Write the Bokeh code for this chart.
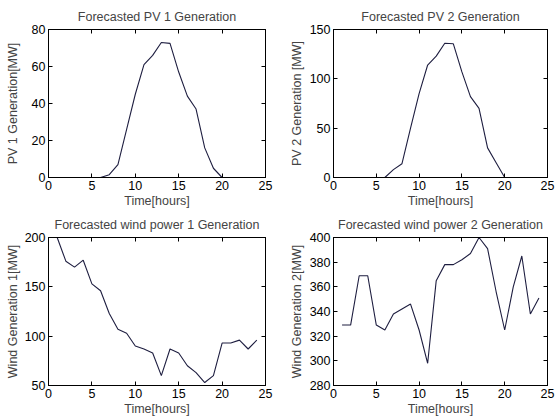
from bokeh.plotting import figure
from bokeh.layouts import column, row
from bokeh.models import LinearAxis, FixedTicker, Range1d, CustomJSTickFormatter
from bokeh.embed import file_html
from bokeh.resources import INLINE

hours = list(range(1, 25))
pv1 = [0, 0, 0, 0, 0, 0, 1.5, 7, 26, 45, 61, 66, 73, 72.5, 57, 44, 37, 16, 5, 0, 0, 0, 0, 0]
pv2 = [0, 0, 0, 0, 0, 0, 8, 14, 50, 85, 114, 123, 136, 135.5, 107, 82, 70, 30, 15, 0, 0, 0, 0, 0]
wind1 = [200, 176, 170, 177, 153, 146, 123, 107, 103, 90, 87, 83, 60, 87, 83, 70, 63, 53, 60, 93, 93, 96, 87, 96]
wind2 = [329, 329, 369, 369, 329, 325, 338, 342, 346, 325, 298, 365, 378, 378, 382, 387, 400, 391, 356, 325, 360, 385, 338, 351]

titles = ["Forecasted PV 1 Generation", "Forecasted PV 2 Generation",
          "Forecasted wind power 1 Generation", "Forecasted wind power 2 Generation"]
ylabels = ["PV 1 Generation[MW]", "PV 2 Generation [MW]",
           "Wind Generation 1[MW]", "Wind Generation 2[MW]"]
xlabel = "Time[hours]"
xticks = [0, 5, 10, 15, 20, 25]
yranges = [(0, 80), (0, 150), (50, 200), (280, 400)]
yticks = [[0, 20, 40, 60, 80], [0, 50, 100, 150], [50, 100, 150, 200],
          [280, 300, 320, 340, 360, 380, 400]]
series = [pv1, pv2, wind1, wind2]

FONT = "Liberation Sans"
FS = "12.5px"
LINE = "#1e1e40"


def style_ticks(ax, ticks):
    ax.ticker = FixedTicker(ticks=ticks)
    ax.major_tick_in = 4
    ax.major_tick_out = 0
    ax.minor_tick_in = 0
    ax.minor_tick_out = 0
    ax.axis_line_color = "black"
    ax.major_tick_line_color = "black"


def make(i, left, right, top, bottom, fw, fh, ylab_standoff):
    p = figure(output_backend="svg", toolbar_location=None,
               frame_width=fw, frame_height=fh,
               min_border_left=left, min_border_right=right,
               min_border_top=top, min_border_bottom=bottom,
               x_range=Range1d(0, 25), y_range=Range1d(*yranges[i]),
               title=titles[i])
    p.title.text_font = FONT
    p.title.text_font_size = FS
    p.title.text_font_style = "normal"
    p.title.align = "center"
    p.title.standoff = 11
    p.xgrid.visible = False
    p.ygrid.visible = False
    p.outline_line_color = "black"
    p.outline_line_width = 1
    p.background_fill_color = "white"
    p.border_fill_color = "white"
    for ax, ticks in ((p.xaxis[0], xticks), (p.yaxis[0], yticks[i])):
        style_ticks(ax, ticks)
        ax.major_label_text_font = FONT
        ax.major_label_text_font_size = FS
        ax.major_label_text_color = "black"
        ax.axis_label_text_font = FONT
        ax.axis_label_text_font_size = FS
        ax.axis_label_text_font_style = "normal"
    p.xaxis[0].axis_label = xlabel
    p.xaxis[0].major_label_standoff = 3
    p.xaxis[0].axis_label_standoff = 1
    p.yaxis[0].axis_label = ylabels[i]
    p.yaxis[0].major_label_standoff = 3
    p.yaxis[0].axis_label_standoff = ylab_standoff
    top_ax = LinearAxis(formatter=CustomJSTickFormatter(code="return ''"),
                        major_label_standoff=0)
    style_ticks(top_ax, xticks)
    right_ax = LinearAxis(formatter=CustomJSTickFormatter(code="return ''"),
                          major_label_standoff=0)
    style_ticks(right_ax, yticks[i])
    p.add_layout(top_ax, "above")
    p.add_layout(right_ax, "right")
    p.line(hours, series[i], line_color=LINE, line_width=1.1)
    return p


p1 = make(0, 48, 12, 29, 33, 217, 148, 9)
p2 = make(1, 56, 8, 29, 33, 214, 148, 3)
p3 = make(2, 48, 12, 26, 34, 217, 148, 2)
p4 = make(3, 56, 8, 26, 34, 214, 148, 3)

layout = column(row(p1, p2), row(p3, p4))
open("out.html", "w").write(file_html(layout, INLINE))
